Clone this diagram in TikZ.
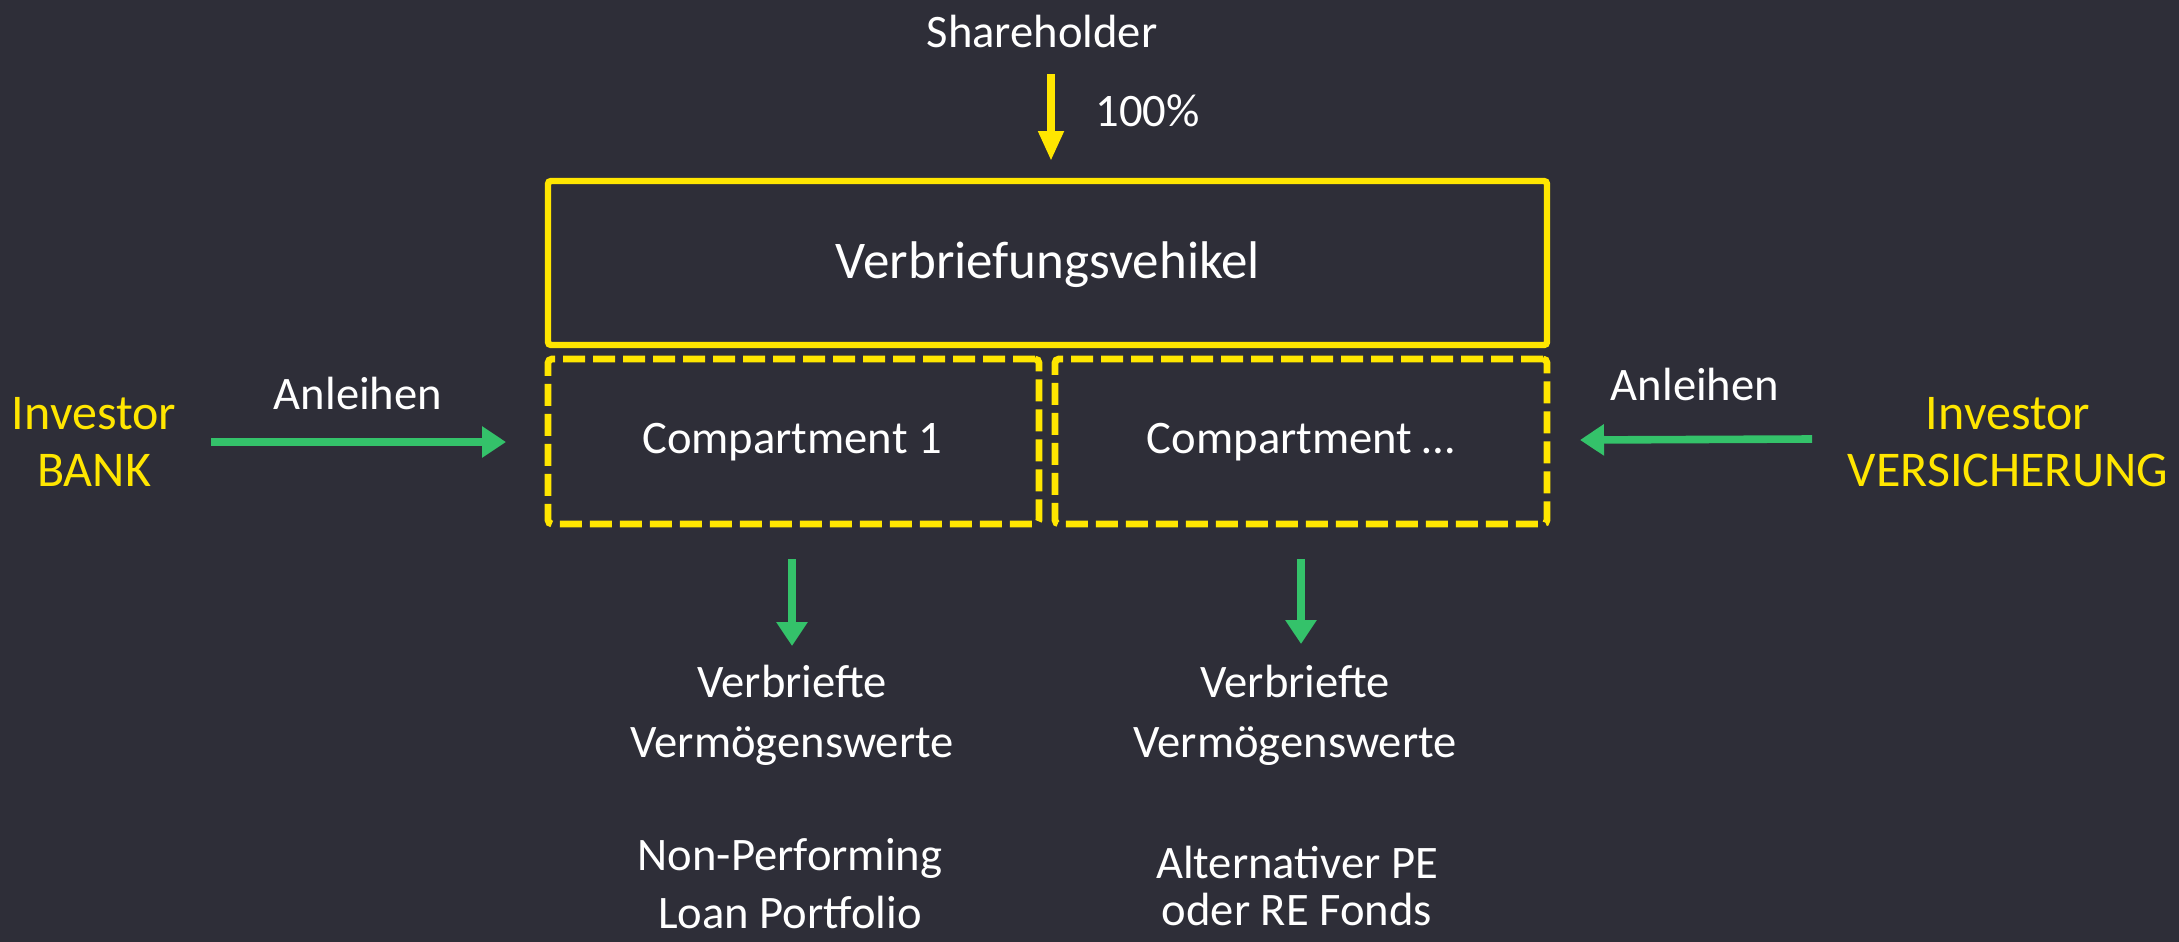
\documentclass[tikz,border=0pt]{standalone}
\usepackage{fontspec}
\setmainfont{Carlito}
\usetikzlibrary{arrows.meta}
\definecolor{bg}{HTML}{2E2E38}
\definecolor{eyy}{HTML}{FFE600}
\definecolor{eyg}{HTML}{34C26A}
\begin{document}
\begin{tikzpicture}[x=0.5pt,y=-0.5pt,
  txt/.style={text=white,font=\fontsize{23.3}{30}\selectfont,align=center,inner sep=0pt},
  ytxt/.style={text=eyy,font=\fontsize{25}{28.5}\selectfont,align=center,inner sep=0pt},
  solidbox/.style={draw=eyy,line width=3.2pt,rounded corners=1.5pt,inner sep=0pt},
  dbox/.style={draw=eyy,line width=3.4pt,rounded corners=2pt,dash pattern=on 11pt off 4pt,inner sep=0pt},
  garrow/.style={draw=eyg,line width=3.8pt,-{Triangle[length=12pt,width=15pt]}},
  yarrow/.style={draw=eyy,line width=4pt,-{Triangle[length=15pt,width=12pt]}}
]
\fill[bg] (0,0) rectangle (2179,942);
\useasboundingbox (0,0) rectangle (2179,942);

% boxes
\node[solidbox,minimum width=499.5pt,minimum height=82pt] (veh) at (1047.5,263) {};
\node[dbox,minimum width=245.5pt,minimum height=82.5pt] (c1) at (793.5,441.5) {};
\node[dbox,minimum width=246pt,minimum height=82.5pt] (cn) at (1301,441.5) {};

% texts
\node[txt] (sh) at (1042,31) {Shareholder};
\node[txt,anchor=west] (pct) at (1095,111) {100\%};
\node[txt,font=\fontsize{26.5}{30}\selectfont] (vehT) at (1048,265) {Verbriefungsvehikel};
\node[txt] (c1T) at (792,442) {Compartment 1};
\node[txt] (cnT) at (1301,442) {Compartment \dots};
\node[ytxt] (bank) at (94,442) {Investor\\BANK};
\node[ytxt] (vers) at (2008,442) {Investor\\VERSICHERUNG};
\node[txt] (anl1) at (358,393) {Anleihen};
\node[txt] (anl2) at (1695,384) {Anleihen};
\node[txt] (v1) at (792,715) {Verbriefte\\Verm\"ogenswerte};
\node[txt] (v2) at (1295,715) {Verbriefte\\Verm\"ogenswerte};
\node[txt,font=\fontsize{23.3}{29}\selectfont] (npl) at (790,884) {Non-Performing\\Loan Portfolio};
\node[txt,font=\fontsize{23.3}{23.5}\selectfont] (alt) at (1297,886) {Alternativer PE\\oder RE Fonds};

% arrow end points
\coordinate (ys) at (1051,74);
\coordinate (ye) at (1051,161);
\coordinate (g1s) at (211,442);
\coordinate (g1e) at (506,442);
\coordinate (g2s) at (1812,439);
\coordinate (g2e) at (1580,440);
\coordinate (d1s) at (792,559);
\coordinate (d1e) at (792,646);
\coordinate (d2s) at (1301,559);
\coordinate (d2e) at (1301,644);

\draw[yarrow] (ys) -- (ye);
\draw[garrow] (g1s) -- (g1e);
\draw[garrow] (g2s) -- (g2e);
\draw[garrow] (d1s) -- (d1e);
\draw[garrow] (d2s) -- (d2e);
\end{tikzpicture}
\end{document}
